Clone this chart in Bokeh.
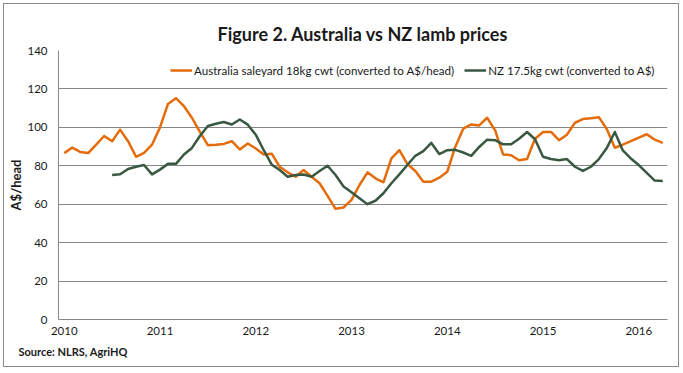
from bokeh.plotting import figure
from bokeh.models import Range1d, FixedTicker, Legend, LegendItem, Title
from bokeh.embed import file_html
from bokeh.resources import INLINE

# ---- data (monthly, Jan 2010 - Apr 2016) ----
start_year = 2010
year_ticks = [2010, 2011, 2012, 2013, 2014, 2015, 2016]

aus_values = [
    86.6, 89.5, 87.2, 86.6, 91.0, 95.5, 92.8, 98.8, 92.8, 84.7, 86.7, 91.0,      # 2010
    100.0, 112.2, 115.2, 111.0, 105.0, 97.6, 90.7, 91.0, 91.4, 92.8, 88.5, 91.6,  # 2011
    89.0, 85.9, 86.3, 79.5, 76.6, 74.3, 77.8, 74.3, 70.9, 64.3, 57.6, 58.3,      # 2012
    62.3, 70.0, 76.6, 73.5, 71.4, 83.8, 88.1, 80.9, 77.3, 71.7, 71.7, 73.8,      # 2013
    76.9, 89.8, 99.3, 101.5, 101.0, 105.0, 98.4, 85.9, 85.5, 82.9, 83.5, 94.1,   # 2014
    97.6, 97.6, 93.3, 96.2, 102.4, 104.3, 104.8, 105.3, 99.0, 89.4, 91.0, 92.8,  # 2015
    94.7, 96.4, 93.6, 91.9,                                                      # 2016
]

nz_first_month = 6  # July 2010
nz_values = [
    75.2, 75.6, 78.3, 79.5, 80.4, 75.5,                                          # 2010 H2
    78.0, 81.0, 81.0, 85.9, 89.3, 95.5, 100.7, 101.9, 102.8, 101.5, 104.1, 101.4,  # 2011
    96.2, 88.1, 80.6, 77.8, 74.3, 75.2, 75.5, 74.3, 77.3, 80.0, 75.2, 69.2,      # 2012
    66.2, 63.1, 60.0, 61.8, 65.7, 70.9, 75.5, 80.4, 85.2, 87.6, 91.9, 86.1,      # 2013
    88.1, 88.3, 86.9, 85.2, 89.8, 93.6, 93.3, 91.2, 91.2, 94.1, 97.6, 93.8,      # 2014
    84.7, 83.5, 82.9, 83.5, 79.5, 77.3, 79.5, 83.5, 89.3, 97.6, 88.0, 83.8,      # 2015
    80.4, 76.3, 72.3, 72.1,                                                      # 2016
]

aus_label = "Australia saleyard 18kg cwt (converted to A$/head)"
nz_label = "NZ 17.5kg cwt (converted to A$)"
title_text = "Figure 2. Australia vs NZ lamb prices"
y_label = "A$/head"
source_text = "Source: NLRS, AgriHQ"

x_aus = [start_year + i / 12 for i in range(len(aus_values))]
x_nz = [start_year + (nz_first_month + i) / 12 for i in range(len(nz_values))]

FONT = "Lato"
ORANGE = "#E46C0A"
GREEN = "#385842"
GRID = "#878787"
TXT = "#1a1a1a"

p = figure(width=676, height=364, output_backend="svg", toolbar_location=None,
           x_range=Range1d(2009.94, 2016.30), y_range=Range1d(0, 140),
           min_border_left=54, min_border_right=13, min_border_top=46, min_border_bottom=49,
           background_fill_color="white", border_fill_color="white")
p.styles = {"border": "1px solid #8a8a8a", "margin-left": "3px", "margin-top": "3px"}
p.outline_line_color = None

p.add_layout(Title(text=title_text, align="center", offset=4, standoff=12,
                   text_font=FONT, text_font_size="18px", text_font_style="bold",
                   text_color=TXT), "above")

r_aus = p.line(x_aus, aus_values, line_color=ORANGE, line_width=2.5, line_join="round")
r_nz = p.line(x_nz, nz_values, line_color=GREEN, line_width=2.5, line_join="round")

p.xgrid.grid_line_color = None
p.ygrid.grid_line_color = GRID
p.ygrid.grid_line_width = 1

p.yaxis.ticker = FixedTicker(ticks=[0, 20, 40, 60, 80, 100, 120, 140])
p.xaxis.ticker = FixedTicker(ticks=year_ticks)
for ax in (p.xaxis, p.yaxis):
    ax.major_tick_line_color = None
    ax.minor_tick_line_color = None
    ax.major_tick_in = 0
    ax.major_tick_out = 0
    ax.axis_line_color = GRID
    ax.major_label_text_font = FONT
    ax.major_label_text_font_size = "11.5px"
    ax.major_label_text_color = TXT
p.yaxis.major_label_standoff = 11
p.xaxis.major_label_standoff = 7
p.yaxis.axis_label = y_label
p.yaxis.axis_label_text_font = FONT
p.yaxis.axis_label_text_font_size = "13px"
p.yaxis.axis_label_text_font_style = "bold"
p.yaxis.axis_label_text_color = TXT
p.yaxis.axis_label_standoff = 0

legend = Legend(items=[LegendItem(label=aus_label, renderers=[r_aus]),
                       LegendItem(label=nz_label, renderers=[r_nz])],
                orientation="horizontal", location=(112, 242),
                border_line_color=None, background_fill_alpha=0,
                label_text_font=FONT, label_text_font_size="11.6px", label_text_color=TXT,
                glyph_width=22, glyph_height=14, label_standoff=2, spacing=10,
                padding=0, margin=0)
p.add_layout(legend)

p.add_layout(Title(text=source_text, align="left", offset=-40, standoff=10, text_font=FONT,
                   text_font_size="11px", text_font_style="bold", text_color=TXT), "below")

open("out.html", "w").write(file_html(p, INLINE))
